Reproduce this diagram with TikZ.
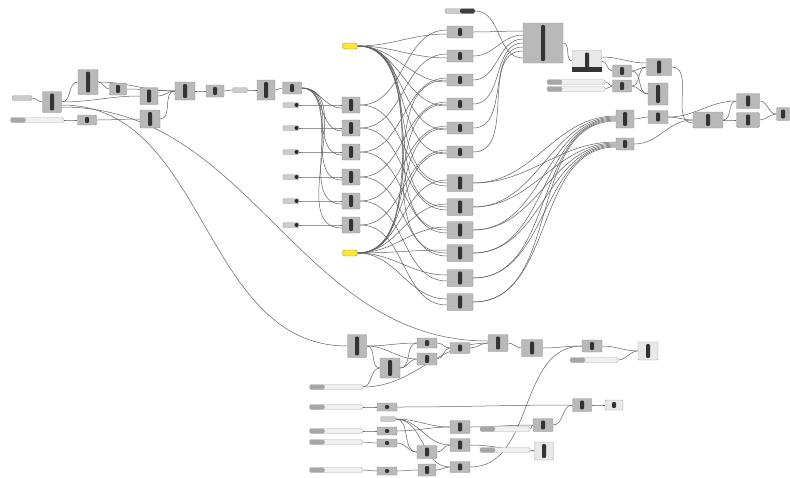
\documentclass[tikz,border=0pt]{standalone}
\begin{document}
\pgfdeclarelayer{bg}
\pgfdeclarelayer{wires}
\pgfsetlayers{bg,wires,main}
\tikzset{
  wire/.style={draw=black!62, line width=0.5pt},
  comp/.style={draw=gray!85, fill=gray!55, rounded corners=1pt, inner sep=0pt,
    path picture={\fill[black!80] ([xshift=-2pt,yshift=2.2pt]path picture bounding box.south) rectangle ([xshift=2pt,yshift=-2.2pt]path picture bounding box.north);}},
  lcomp/.style={draw=gray!70, fill=gray!18, rounded corners=1pt, inner sep=0pt,
    path picture={\fill[black!80] ([xshift=-2pt,yshift=2.2pt]path picture bounding box.south) rectangle ([xshift=2pt,yshift=-2.2pt]path picture bounding box.north);}},
  slider/.style={draw=gray!60, fill=gray!12, rounded corners=1.5pt, inner sep=0pt, minimum height=5pt,
    path picture={\fill[gray!70] (path picture bounding box.south west) rectangle ([xshift=15pt]path picture bounding box.north west);}},
  knob/.style={draw=gray!70, fill=gray!40, rounded corners=1pt, inner sep=0pt, minimum width=16pt, minimum height=5pt,
    path picture={\fill[black!85] ([xshift=-2.5pt]path picture bounding box.east) circle (2pt);}},
  lparam/.style={draw=gray!70, fill=gray!40, rounded corners=1.5pt, inner sep=0pt, minimum height=5pt},
  ypanel/.style={draw=yellow!55!black, fill=yellow!85!orange!80, rounded corners=2.5pt, inner sep=0pt, minimum width=15pt, minimum height=6pt},
}
\newcommand\gcomp[5]{\node[comp,minimum width=#4pt,minimum height=#5pt] (#1) at (#2,#3) {};}
\newcommand\glcomp[5]{\node[lcomp,minimum width=#4pt,minimum height=#5pt] (#1) at (#2,#3) {};}
\newcommand\gslider[4]{\node[slider,minimum width=#4pt] (#1) at (#2,#3) {};}
\newcommand\gwire[2]{\draw[wire] (#1.east) to[out=0,in=180] (#2.west);}
\begin{tikzpicture}[x=1pt,y=-1pt]
\begin{pgfonlayer}{bg}
\fill[white] (0,0) rectangle (790,477);
\end{pgfonlayer}
\useasboundingbox (0,0) rectangle (790,477);
% ---------- left cluster
\node[lparam,minimum width=20pt] (s1) at (22,98) {};
\gcomp{c1}{52}{102}{19}{21}
\gcomp{c2}{88}{82}{20}{25}
\gcomp{c3}{118}{89}{17}{12}
\gcomp{c4}{149}{96}{18}{17}
\gcomp{c5}{150}{119}{20}{18}
\gcomp{c6}{185}{91}{20}{18}
\gcomp{c7}{215}{91}{18}{12}
\node[lparam,minimum width=15pt] (p1) at (240,90) {};
\gcomp{c8}{266}{90}{18}{20}
\gcomp{c9}{292}{88}{19}{12}
\gslider{sl2}{37}{120}{53}
\gcomp{c10}{87}{120}{19}{10}
% ---------- column A with knobs
\foreach \i/\y in {1/105,2/128,3/152,4/177,5/201,6/225}{
  \node[knob] (k\i) at (291,\y) {};
  \gcomp{A\i}{351}{\y}{18}{16}
}
\node[ypanel] (Y1) at (350,46) {};
\node[ypanel] (Y2) at (350,253) {};
% ---------- column B
\node[lparam,minimum width=30pt,path picture={\fill[black!75] (path picture bounding box.south) rectangle (path picture bounding box.north east);}] (P0) at (460,11) {};
\foreach \i/\y in {1/32,2/56,3/80,4/104,5/128,6/152}{\gcomp{T\i}{460}{\y}{26}{12}}
\foreach \i/\y in {1/183,2/207,3/230,4/253,5/278,6/302}{\gcomp{U\i}{460}{\y}{26}{17}}
% ---------- top right
\gcomp{BIG}{543}{43}{40}{40}
\glcomp{W}{587}{61}{29}{21}
\fill[black!80] (W.south west) rectangle ([yshift=5pt]W.south east);
\gcomp{D1}{622}{71}{19}{12}
\gslider{SL1}{576}{82}{58}
\gslider{SL2}{576}{89}{58}
\gcomp{D2}{622}{86}{19}{12}
\gcomp{D3}{659}{67}{25}{17}
\gcomp{D4}{658}{94}{20}{22}
\gcomp{R1}{625}{119}{18}{18}
\gcomp{R2}{625}{144}{18}{12}
\gcomp{F}{658}{117}{20}{13}
\gcomp{E}{708}{120}{30}{16}
\gcomp{G1}{748}{101}{23}{15}
\gcomp{G2}{748}{120}{23}{15}
\gcomp{H}{783}{114}{13}{13}
% ---------- bottom row
\gcomp{N1}{357}{346}{19}{23}
\gcomp{N2}{427}{343}{20}{10}
\gcomp{N4}{427}{359}{20}{12}
\gcomp{N3}{390}{368}{20}{20}
\gcomp{N5}{460}{348}{20}{11}
\gcomp{N6}{498}{343}{20}{17}
\gcomp{N7}{532}{348}{21}{17}
\gcomp{N8}{592}{346}{20}{12}
\glcomp{N9}{648}{351}{20}{18}
\gslider{sr}{594}{360}{48}
\gslider{sb1}{336}{387}{53}
% ---------- bottom block
\gslider{Sa}{336}{407}{53}
\gslider{Sb}{336}{431}{53}
\gslider{Sc}{336}{442}{53}
\gslider{Sd}{336}{470}{53}
\gcomp{Ma}{387}{407}{20}{8}
\gcomp{Mb}{387}{431}{20}{8}
\gcomp{Mc}{387}{443}{20}{8}
\gcomp{Md}{387}{471}{20}{8}
\node[lparam,minimum width=15pt] (P) at (388,419) {};
\gcomp{Q1}{460}{427}{20}{13}
\gcomp{Q2}{460}{445}{20}{13}
\gcomp{Q3}{427}{452}{20}{13}
\gcomp{Q4}{427}{470}{18}{12}
\gcomp{Q5}{460}{467}{20}{11}
\gslider{sv1}{505}{429}{50}
\gslider{sv2}{505}{450}{50}
\gcomp{Rb1}{543}{425}{20}{13}
\glcomp{Rb2}{544}{451}{19}{18}
\gcomp{X1}{582}{405}{19}{13}
\glcomp{X2}{614}{405}{18}{10}
% ---------- wires
\begin{pgfonlayer}{wires}
\foreach \a/\b in {s1/c1,c1/c2,c1/c4,c2/c3,c2/c6,c3/c6,c4/c6,c5/c6,c10/c5,sl2/c10,c6/c7,c7/p1,p1/c8,c8/c9}{\gwire{\a}{\b}}
\draw[wire] ([yshift=-3pt]c1.east) to[out=0,in=180] (N1.west);
\draw[wire] ([yshift=-5pt]c1.east) to[out=0,in=180] ([yshift=2pt]N6.west);
\foreach \i in {1,...,6}{
  \draw[wire] (c9.east) to[out=0,in=180] ([yshift=-3pt]A\i.west);
  \gwire{k\i}{A\i}
  \draw[wire] (A\i.east) to[out=0,in=180] ([yshift=2pt]T\i.west);
  \draw[wire] (A\i.east) to[out=0,in=180] ([yshift=-3pt]U\i.west);
  \draw[wire] (Y1.east) to[out=0,in=180] ([yshift=-2pt]T\i.west);
  \draw[wire] (Y2.east) to[out=0,in=180] ([yshift=3pt]U\i.west);
  \draw[wire] (T\i.east) to[out=0,in=180] ([yshift=16-4*\i]BIG.west);
  \draw[wire] (U\i.east) to[out=0,in=180] ([yshift=4-\i]R1.west);
  \draw[wire] (U\i.east) to[out=0,in=180] ([yshift=3-\i]R2.west);
}
\foreach \i in {1,...,4}{\draw[wire] (Y1.east) to[out=0,in=180] (U\i.west);}
\foreach \i in {3,...,6}{\draw[wire] (Y2.east) to[out=0,in=180] (T\i.west);}
\draw[wire] (P0.east) to[out=0,in=180] ([yshift=-15pt]BIG.west);
\foreach \a/\b in {BIG/W,W/D1,SL1/D2,SL2/D2,D1/D3,D2/D3,D1/D4,D2/D4,R1/F,F/E,R2/E,F/G1,E/G1,E/G2,G1/H,G2/H}{\gwire{\a}{\b}}
\draw[wire] ([yshift=4pt]W.east) to[out=0,in=180] ([yshift=4pt]D3.west);
\draw[wire] (D3.east) to[out=0,in=180] ([yshift=-3pt]E.west);
\foreach \a/\b in {N1/N2,N1/N4,N1/N3,N3/N2,N3/N4,N2/N5,N4/N5,N5/N6,N6/N7,N7/N8,N8/N9,sr/N9,Q5/N8,sb1/N3,sb1/N6}{\gwire{\a}{\b}}
\foreach \a/\b in {Sa/Ma,Sb/Mb,Sc/Mc,Sd/Md,Ma/X1,P/Q1,P/Q2,P/Q3,P/Q5,Mb/Q1,Mc/Q3,Q3/Q2,Md/Q4,Q4/Q5,Q1/Rb1,sv1/Rb1,Q2/Rb2,sv2/Rb2,Rb1/X1,X1/X2}{\gwire{\a}{\b}}
\end{pgfonlayer}
\end{tikzpicture}
\end{document}
